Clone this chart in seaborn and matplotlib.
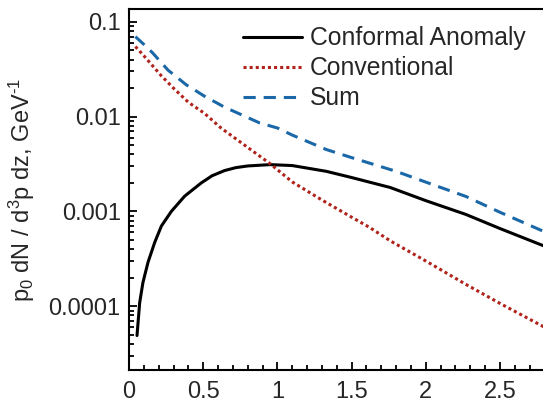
import numpy as np
import pandas as pd
import matplotlib
matplotlib.use("Agg")
import matplotlib.pyplot as plt
import matplotlib.ticker as mticker
import seaborn as sns

# ---- data ----
conformal_p0 = [0.054, 0.072, 0.094, 0.128, 0.173, 0.218, 0.285, 0.375, 0.487, 0.56, 0.644, 0.72,
                0.8, 0.95, 1.1, 1.33, 1.5, 1.76, 2.0, 2.27, 2.5, 2.8]
conformal = [4.9e-5, 1.09e-4, 1.78e-4, 2.9e-4, 4.7e-4, 7.0e-4, 1.0e-3, 1.45e-3, 2.0e-3, 2.38e-3,
             2.7e-3, 2.9e-3, 3.02e-3, 3.12e-3, 3.05e-3, 2.65e-3, 2.28e-3, 1.79e-3, 1.3e-3,
             9.3e-4, 6.6e-4, 4.3e-4]
conventional_p0 = [0.043, 0.1, 0.218, 0.3, 0.4, 0.51, 0.62, 0.75, 0.95, 1.1, 1.3, 1.5, 1.62, 1.76,
                   2.0, 2.27, 2.5, 2.8]
conventional = [0.055, 0.044, 0.027, 0.020, 0.0142, 0.0108, 0.0076, 0.0054, 0.0032, 0.00205,
                0.00132, 8.7e-4, 6.8e-4, 4.9e-4, 3.0e-4, 1.7e-4, 1.07e-4, 6.0e-5]
sum_p0 = [0.043, 0.1, 0.16, 0.263, 0.386, 0.45, 0.51, 0.58, 0.644, 0.757, 0.88, 1.0, 1.1, 1.33,
          1.5, 1.8, 2.0, 2.27, 2.5, 2.8]
total = [0.070, 0.058, 0.047, 0.031, 0.0217, 0.0188, 0.0164, 0.0143, 0.0126, 0.0105, 0.0086,
         0.0076, 0.0064, 0.0045, 0.0037, 0.00265, 0.00204, 0.00144, 0.00098, 0.00061]
series_names = ["Conformal Anomaly", "Conventional", "Sum"]
x_ticks = [0, 0.5, 1, 1.5, 2, 2.5]
x_tick_labels = ["0", "0.5", "1", "1.5", "2", "2.5"]
y_ticks = [1e-4, 1e-3, 1e-2, 1e-1]
y_tick_labels = ["0.0001", "0.001", "0.01", "0.1"]

df = pd.concat([
    pd.DataFrame({"p0": conformal_p0, "val": conformal, "series": series_names[0]}),
    pd.DataFrame({"p0": conventional_p0, "val": conventional, "series": series_names[1]}),
    pd.DataFrame({"p0": sum_p0, "val": total, "series": series_names[2]}),
], ignore_index=True)

sns.set_style("ticks")
plt.rcParams["font.family"] = ["Liberation Sans", "DejaVu Sans"]
plt.rcParams["mathtext.fontset"] = "custom"
plt.rcParams["mathtext.rm"] = "Liberation Sans"
plt.rcParams["mathtext.it"] = "Liberation Sans"

fig = plt.figure(figsize=(5.43, 4.03), dpi=100)
ax = fig.add_axes([129 / 543, 1 - 370 / 403, 1 - 129 / 543, (370 - 9) / 403])

colors = {"Conformal Anomaly": "black", "Conventional": "#b0231b", "Sum": "#1b68a8"}
dash_styles = {"Conformal Anomaly": "-", "Conventional": (0, (1.0, 1.0)), "Sum": (0, (4.0, 2.6))}
for name in series_names:
    sub = df[df["series"] == name]
    sns.lineplot(x=sub["p0"], y=sub["val"], ax=ax, lw=2.2, color=colors[name], label=name,
                 sort=False)
    ax.lines[-1].set_linestyle(dash_styles[name])

ax.set_yscale("log")
ax.set_xlim(0, 2.79)
ax.set_ylim(2.12e-5, 0.137)

ax.xaxis.set_major_locator(mticker.FixedLocator(x_ticks))
ax.xaxis.set_major_formatter(mticker.FixedFormatter(x_tick_labels))
ax.xaxis.set_minor_locator(mticker.MultipleLocator(0.1))
ax.yaxis.set_major_locator(mticker.FixedLocator(y_ticks))
ax.yaxis.set_major_formatter(mticker.FixedFormatter(y_tick_labels))
ax.yaxis.set_minor_locator(mticker.LogLocator(base=10, subs=np.arange(2, 10)))
ax.yaxis.set_minor_formatter(mticker.NullFormatter())

ax.tick_params(which="both", direction="in", labelsize=17, width=1.3, color="black",
               top=False, right=False)
ax.tick_params(which="major", length=6)
ax.tick_params(which="minor", length=3.5)
ax.tick_params(axis="x", pad=8)
ax.tick_params(axis="y", pad=6)

for s in ["left", "bottom", "top"]:
    ax.spines[s].set_linewidth(1.5)
    ax.spines[s].set_color("black")
ax.spines["right"].set_visible(False)

ax.set_xlabel("")
ax.set_ylabel(r"p$_0$ dN / d$^3$p dz, GeV$^{\text{-}1}$", fontsize=17, labelpad=8)

ax.get_legend().remove()
handles = ax.lines[:3]
ax.legend(handles, series_names, loc="upper right", bbox_to_anchor=(1.0, 1.0), frameon=False,
          fontsize=17.8, handlelength=2.4, handletextpad=0.32, labelspacing=0.24,
          borderaxespad=0.3)

fig.savefig("out.png", dpi=100)
